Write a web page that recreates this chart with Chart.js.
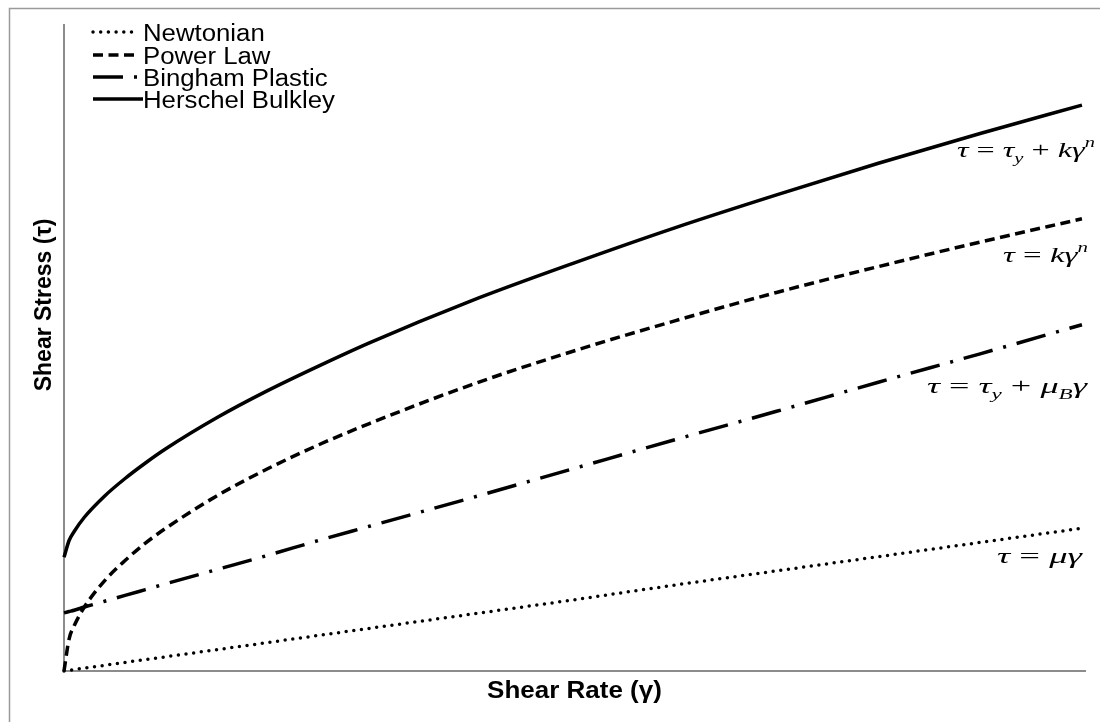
<!DOCTYPE html>
<html>
<head>
<meta charset="utf-8">
<script src="https://cdn.jsdelivr.net/npm/chart.js@4"></script>
<style>
  body { margin: 0; background: #fff; }
  canvas { display: block; }
</style>
</head>
<body>
<canvas id="chart" width="1100" height="722"></canvas>
<script>
// shear rate (normalised 0..1) and stress curves
var shearRate = [0, 0.005, 0.01, 0.02, 0.04, 0.06, 0.08, 0.1, 0.15, 0.2, 0.25, 0.3, 0.4, 0.5, 0.6, 0.7, 0.8, 0.9, 1.0];
var newtonian = [0, 0.11, 0.22, 0.44, 0.88, 1.33, 1.77, 2.2, 3.3, 4.4, 5.5, 6.6, 8.8, 11.0, 13.3, 15.5, 17.7, 19.9, 22.1];
var powerLaw  = [0, 4.95, 7.0, 9.9, 14.0, 17.1, 19.8, 22.1, 27.1, 31.3, 35.0, 38.3, 44.3, 49.5, 54.2, 58.6, 62.6, 66.4, 70.0];
var bingham   = [9.0, 9.2, 9.4, 9.9, 10.8, 11.7, 12.6, 13.5, 15.7, 17.9, 20.2, 22.4, 26.8, 31.3, 35.8, 40.2, 44.7, 49.1, 53.6];
var herschel  = [17.6, 20.2, 21.6, 23.8, 27.1, 29.8, 32.2, 34.4, 39.2, 43.4, 47.2, 50.8, 57.3, 63.1, 68.6, 73.7, 78.6, 83.2, 87.6];
var seriesNames = ['Newtonian', 'Power Law', 'Bingham Plastic', 'Herschel Bulkley'];
var xTitle = 'Shear Rate (\u03b3)';
var yTitle = 'Shear Stress (\u03c4)';

function toPoints(ys) {
  var pts = [];
  for (var i = 0; i < shearRate.length; i++) {
    pts.push({ x: shearRate[i], y: ys[i] });
  }
  return pts;
}

var dashes = [[0, 7.7], [10, 5.5], [30, 11, 3, 11], []];
var caps = ['round', 'butt', 'butt', 'butt'];
var allSeries = [newtonian, powerLaw, bingham, herschel];

var datasets = [];
for (var i = 0; i < allSeries.length; i++) {
  datasets.push({
    label: seriesNames[i],
    data: toPoints(allSeries[i]),
    borderColor: '#000',
    borderWidth: 3.5,
    borderDash: dashes[i],
    borderCapStyle: caps[i],
    borderJoinStyle: 'round',
    pointRadius: 0,
    fill: false,
    cubicInterpolationMode: 'monotone',
    clip: 6
  });
}

function stretchText(ctx, text, x, y, sx) {
  ctx.save();
  ctx.translate(x, y);
  ctx.scale(sx, 1);
  ctx.fillText(text, 0, 0);
  ctx.restore();
}

var equations = [
  { parts: [['\u03c4', 'i'], [' = ', 'r'], ['\u03c4', 'i'], ['y', 'sub'], [' + ', 'r'], ['k\u03b3', 'i'], ['n', 'sup']], left: 957, right: 1095, base: 157 },
  { parts: [['\u03c4', 'i'], [' = ', 'r'], ['k\u03b3', 'i'], ['n', 'sup']], left: 1003, right: 1088, base: 262 },
  { parts: [['\u03c4', 'i'], [' = ', 'r'], ['\u03c4', 'i'], ['y', 'sub'], [' + ', 'r'], ['\u03bc', 'i'], ['B', 'sub'], ['\u03b3', 'i']], left: 927, right: 1087, base: 393 },
  { parts: [['\u03c4', 'i'], [' = ', 'r'], ['\u03bc\u03b3', 'i']], left: 997, right: 1082, base: 563 }
];

function partFont(kind) {
  if (kind === 'r') return '22px "Liberation Serif", "Times New Roman", serif';
  if (kind === 'sub' || kind === 'sup') return 'italic 14px "Liberation Serif", "Times New Roman", serif';
  return 'italic 22px "Liberation Serif", "Times New Roman", serif';
}

function drawEquation(ctx, eq) {
  var w = 0, j;
  for (j = 0; j < eq.parts.length; j++) {
    ctx.font = partFont(eq.parts[j][1]);
    w += ctx.measureText(eq.parts[j][0]).width;
  }
  ctx.save();
  ctx.translate(eq.left, eq.base);
  ctx.scale((eq.right - eq.left) / w, 1);
  ctx.textBaseline = 'alphabetic';
  ctx.textAlign = 'left';
  var x = 0;
  for (j = 0; j < eq.parts.length; j++) {
    var p = eq.parts[j];
    ctx.font = partFont(p[1]);
    var dy = p[1] === 'sub' ? 6 : (p[1] === 'sup' ? -10 : 0);
    ctx.fillText(p[0], x, dy);
    x += ctx.measureText(p[0]).width;
  }
  ctx.restore();
}

var decor = {
  id: 'decor',
  afterDraw: function(chart) {
    var ctx = chart.ctx;
    ctx.save();
    // outer frame
    ctx.strokeStyle = '#9a9a9a';
    ctx.lineWidth = 1.5;
    ctx.strokeRect(9.5, 8.5, 1200, 800);

    ctx.fillStyle = '#000';
    // legend
    var rowY = [32, 55, 77, 99];
    for (var i = 0; i < chart.data.datasets.length; i++) {
      var ds = chart.data.datasets[i];
      ctx.beginPath();
      ctx.setLineDash(ds.borderDash);
      ctx.lineCap = ds.borderCapStyle;
      ctx.lineWidth = 3.5;
      ctx.strokeStyle = '#000';
      ctx.moveTo(93, rowY[i]);
      ctx.lineTo(i === 3 ? 143 : 138, rowY[i]);
      ctx.stroke();
      ctx.setLineDash([]);
      ctx.font = '23px "Liberation Sans", Arial, sans-serif';
      ctx.textAlign = 'left';
      ctx.textBaseline = 'alphabetic';
      stretchText(ctx, ds.label, 143, rowY[i] + 9, 1.12);
    }

    // axis titles
    ctx.font = 'bold 23px "Liberation Sans", Arial, sans-serif';
    ctx.textAlign = 'center';
    ctx.textBaseline = 'alphabetic';
    stretchText(ctx, xTitle, 574.5, 698, 1.13);

    ctx.save();
    ctx.font = 'bold 23px "Liberation Sans", Arial, sans-serif';
    ctx.translate(51, 305);
    ctx.rotate(-Math.PI / 2);
    ctx.fillText(yTitle, 0, 0);
    ctx.restore();

    // equations
    for (var k = 0; k < equations.length; k++) {
      drawEquation(ctx, equations[k]);
    }
    ctx.restore();
  }
};

new Chart(document.getElementById('chart'), {
  type: 'line',
  data: { datasets: datasets },
  plugins: [decor],
  options: {
    responsive: false,
    animation: false,
    layout: { padding: { left: 64, right: 15, top: 25, bottom: 51 } },
    plugins: { legend: { display: false }, tooltip: { enabled: false } },
    scales: {
      x: {
        type: 'linear',
        min: 0,
        max: 1.003,
        ticks: { display: false },
        grid: { display: false, drawTicks: false },
        border: { display: true, color: '#8c8c8c', width: 2 }
      },
      y: {
        min: 0,
        max: 100,
        ticks: { display: false },
        grid: { display: false, drawTicks: false },
        border: { display: true, color: '#8c8c8c', width: 2 }
      }
    }
  }
});
</script>
</body>
</html>
